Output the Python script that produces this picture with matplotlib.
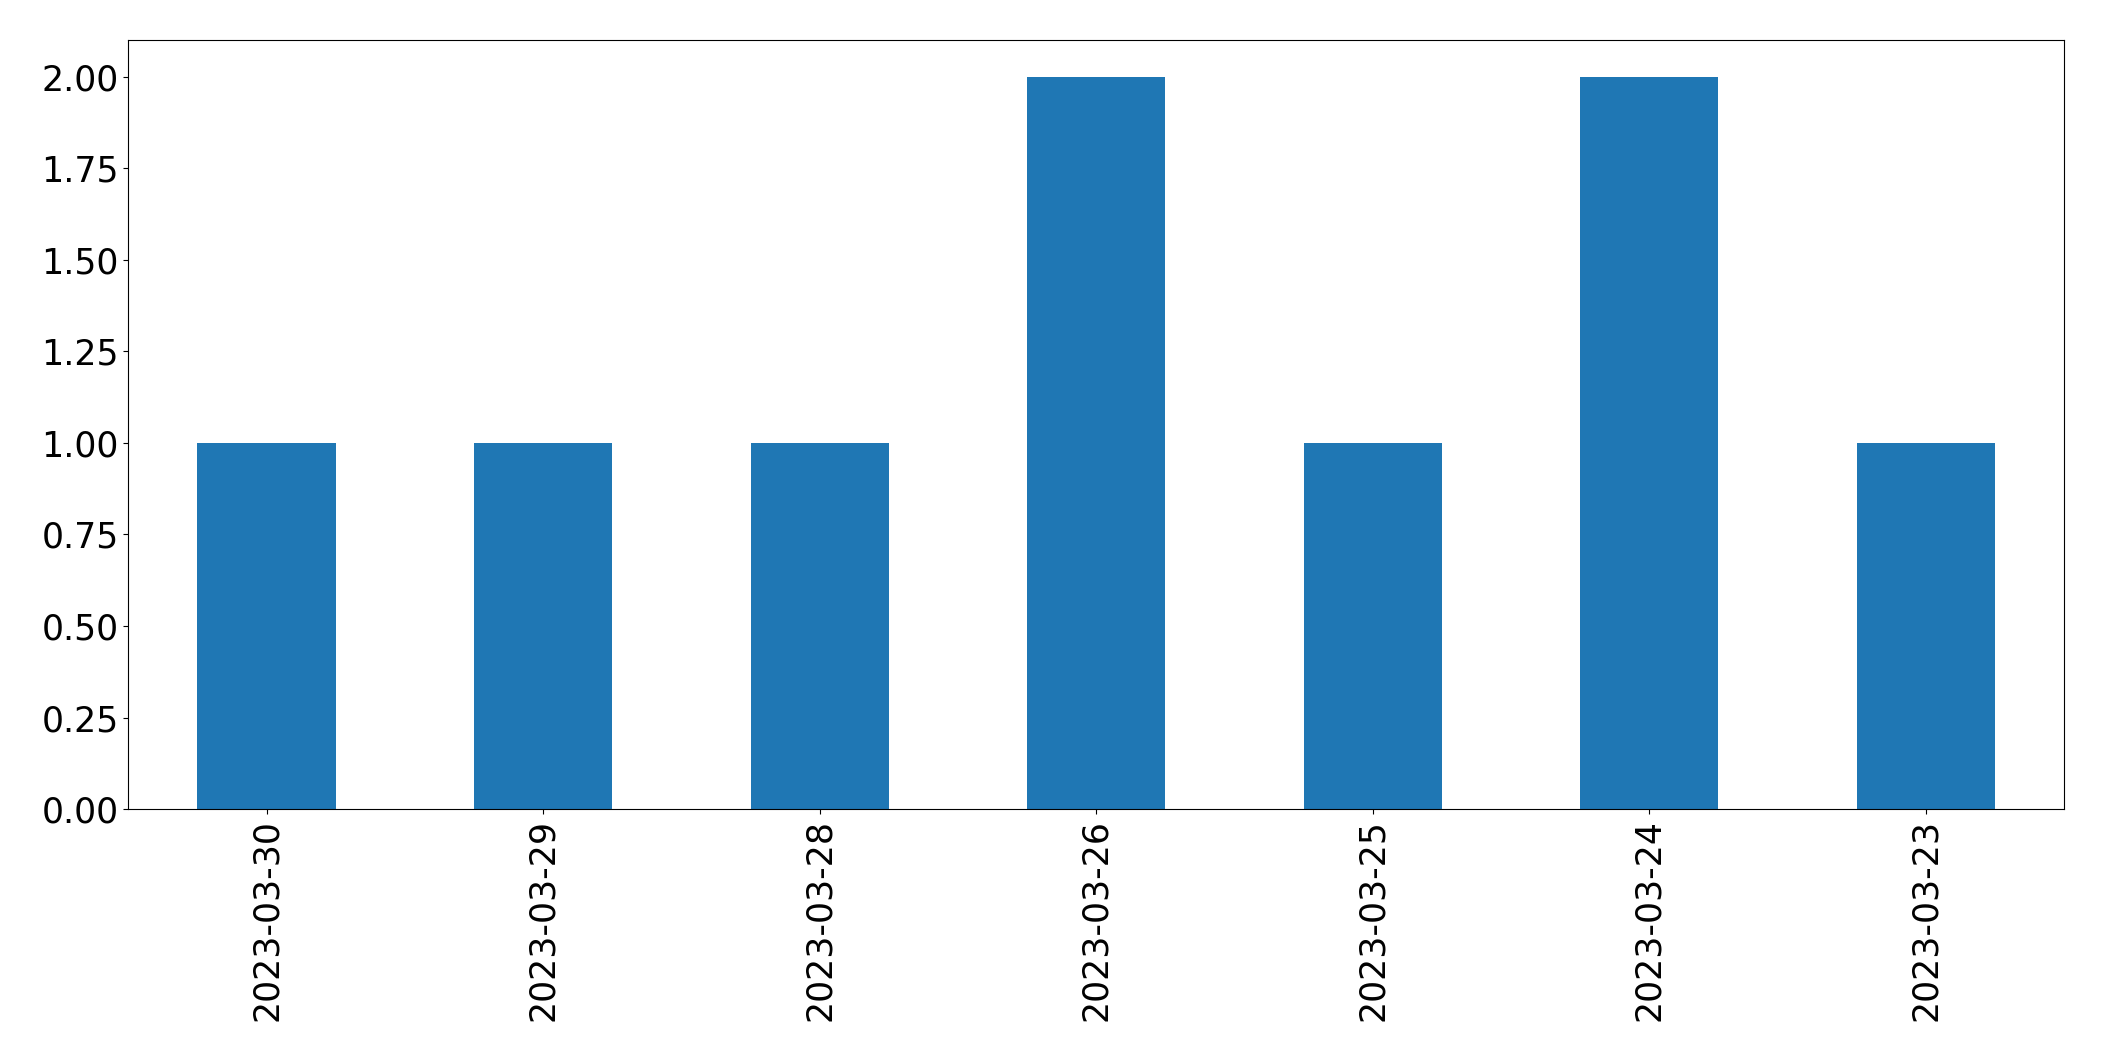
import matplotlib
matplotlib.use("Agg")
import matplotlib.pyplot as plt
import numpy as np

# daily counts
dates = ["2023-03-30", "2023-03-29", "2023-03-28", "2023-03-26",
         "2023-03-25", "2023-03-24", "2023-03-23"]
counts = [1, 1, 1, 2, 1, 2, 1]

fig = plt.figure(figsize=(21.04, 10.61), dpi=100)
ax = fig.add_axes([0.061, 0.2375, 0.920, 0.7245])

x = np.arange(len(dates))
ax.bar(x, counts, width=0.5, color="#1f77b4")
ax.set_xlim(-0.5, len(dates) - 0.5)
ax.set_ylim(0, 2.1)
ax.set_yticks(np.arange(0, 2.01, 0.25))
ax.set_yticklabels([f"{v:.2f}" for v in np.arange(0, 2.01, 0.25)])
ax.set_xticks(x)
ax.set_xticklabels(dates, rotation=90)
ax.tick_params(labelsize=25)

fig.savefig("out.png", dpi=100)
